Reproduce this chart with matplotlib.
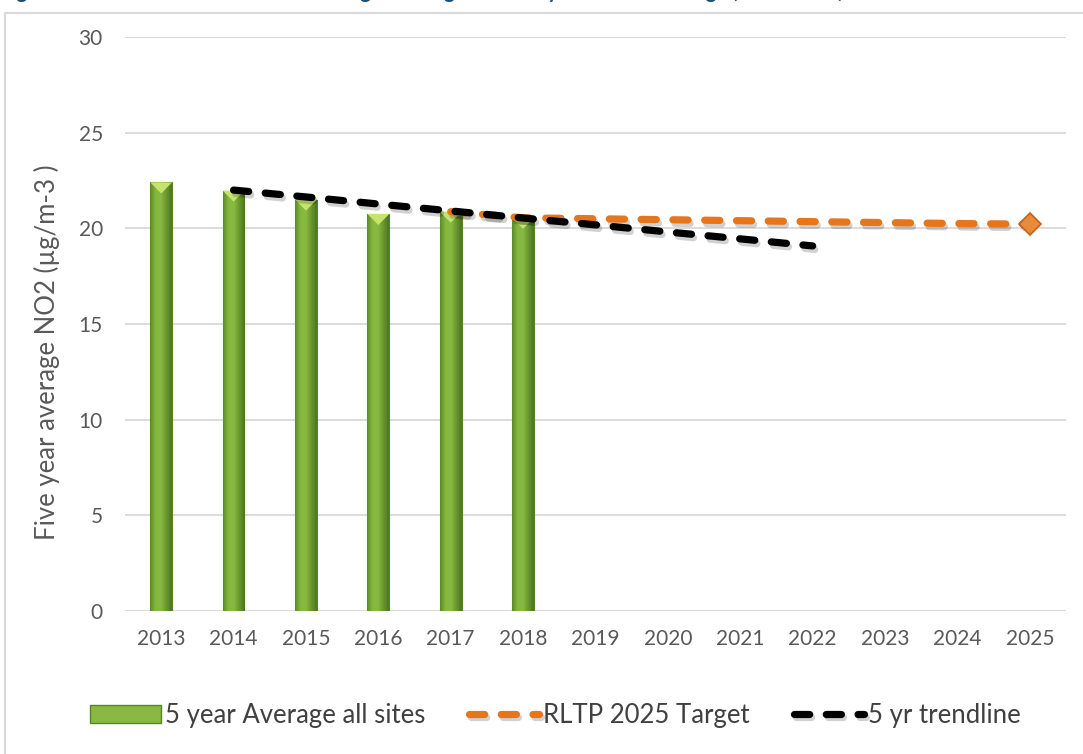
import matplotlib
matplotlib.use("Agg")
import matplotlib.pyplot as plt
import matplotlib.patheffects as pe
from matplotlib.patches import Polygon, Rectangle
from matplotlib.colors import LinearSegmentedColormap
import numpy as np

years = ["2013", "2014", "2015", "2016", "2017", "2018", "2019",
         "2020", "2021", "2022", "2023", "2024", "2025"]
avg_values = [22.4, 21.97, 21.5, 20.75, 20.87, 20.55]
target_years = ["2017", "2018", "2019", "2020", "2021", "2022", "2023", "2024", "2025"]
target_values = [20.87, 20.55, 20.5, 20.45, 20.4, 20.35, 20.3, 20.25, 20.22]
trend_years = ["2014", "2015", "2016", "2017", "2018", "2019", "2020", "2021", "2022"]
trend_values = [22.0, 21.64, 21.27, 20.91, 20.54, 20.18, 19.81, 19.45, 19.08]
yticks = [0, 5, 10, 15, 20, 25, 30]

FONT = "Lato"
plt.rcParams["font.family"] = [FONT, "DejaVu Sans"]
TXT = "#595959"

fig = plt.figure(figsize=(10.83, 7.54), dpi=100)
W, H = 1083, 754

# outer frame
fig.patches.append(Rectangle((5 / W, -0.01), 1.1, 1 - 13 / H + 0.01, transform=fig.transFigure,
                             facecolor="none", edgecolor="#D9D9D9", linewidth=1.5, zorder=-5))
# clipped title
fig.text(0 / W, 1 + 1.5 / H,
         "Figure 3: Annual NO2 levels at all sites against target for five year annual average (2013-2018)",
         fontsize=14.5, fontweight="bold", color="#1F4E79", va="baseline", ha="left")

ax = fig.add_axes([125 / W, (754 - 611) / H, 941 / W, 574 / H])
ax.set_facecolor("none")
xpos = {y: i for i, y in enumerate(years)}

ax.set_yticks(yticks)
ax.grid(axis="y", color="#D9D9D9", linewidth=1.3, zorder=0)
ax.set_axisbelow(True)
for s in ax.spines.values():
    s.set_visible(False)
ax.tick_params(axis="both", length=0, labelsize=15, labelcolor=TXT)
ax.tick_params(axis="y", pad=16)
ax.tick_params(axis="x", pad=13)
ax.set_xticks(range(len(years)))
ax.set_xticklabels(years)

# bars
bw = 0.3
bx = [xpos[y] for y in years[:len(avg_values)]]
bars = ax.bar(bx, avg_values, width=bw, color="#7AA836", edgecolor="#5A8526",
              linewidth=0.8, zorder=2)
grad = np.linspace(0, 1, 64)
cmap = LinearSegmentedColormap.from_list("g", ["#5C8A28", "#86B840", "#88B942", "#6A972E", "#4C7620"])
py = 30 / 574  # data units per pixel
for b in bars:
    x0, w, h = b.get_x(), b.get_width(), b.get_height()
    im = ax.imshow(grad[None, :], cmap=cmap, aspect="auto",
                   extent=(x0, x0 + w, 0, h), zorder=2.1)
    im.set_clip_path(b)
    tri = Polygon([(x0, h), (x0 + w, h), (x0 + w / 2, h - 11 * py)], closed=True,
                  facecolor="#C4E46E", edgecolor="none", zorder=2.2)
    ax.add_patch(tri)
ax.set_xlim(-0.5, len(years) - 0.5)
ax.set_ylim(0, 30)

shadow = [pe.SimpleLineShadow(offset=(1.5, -2.5), shadow_color="#000000", alpha=0.18), pe.Normal()]
dash = (2.1, 2.3)
tl, = ax.plot([xpos[y] for y in target_years], target_values, color="#E5761C", linewidth=5.2,
              linestyle=(0, dash), dash_capstyle="round", zorder=3, path_effects=shadow)
ax.plot([xpos["2025"]], [target_values[-1]], marker="D", markersize=11, color="#E98A3A",
        markeredgecolor="#C4621A", markeredgewidth=1.2, zorder=4, linestyle="none")
kl, = ax.plot([xpos[y] for y in trend_years], trend_values, color="#000000", linewidth=5.2,
              linestyle=(0, dash), dash_capstyle="round", zorder=3.5, path_effects=shadow)

fig.text(47 / W, 1 - 352 / H, "Five year average NO2 (µg/m-3 )", rotation=90,
         fontsize=18.5, color=TXT, ha="center", va="center")

bar_handle = Rectangle((0, 0), 1, 1, facecolor="#88B942", edgecolor="#5A8526")
leg = fig.legend([bar_handle, tl, kl], ["5 year Average all sites", "RLTP 2025 Target", "5 yr trendline"],
                 loc="center", bbox_to_anchor=(0.5 + 14 / W, 1 - 715 / H), ncol=3, frameon=False,
                 fontsize=18.5, handlelength=2.75, handleheight=0.7, handletextpad=0.15,
                 columnspacing=1.7, labelcolor="#404040")

fig.savefig("out.png", dpi=100)
